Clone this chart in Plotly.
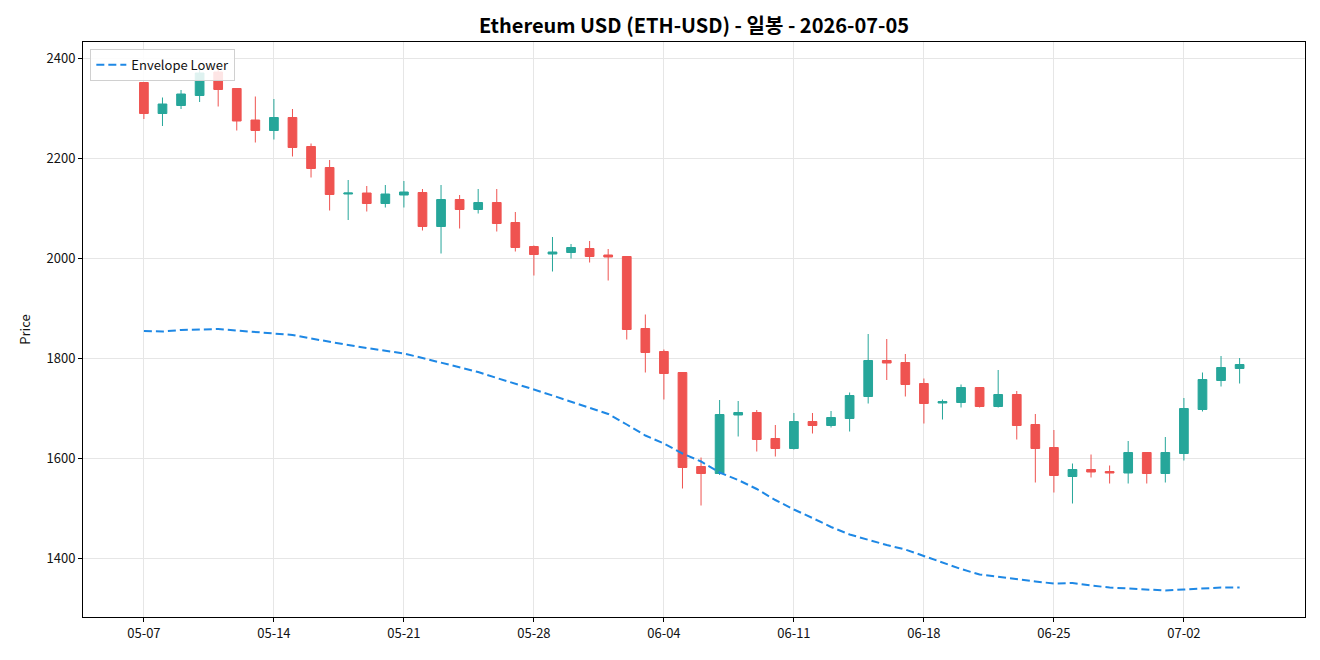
import pandas as pd
import plotly.graph_objects as go

dates = pd.date_range("2026-05-07", "2026-07-05", freq="D")

opens = [2351, 2289, 2305, 2325, 2372, 2339, 2276, 2255, 2281, 2223,
         2181, 2128, 2130, 2109, 2126, 2131, 2063, 2117, 2097, 2111,
         2071, 2023, 2008, 2011, 2019, 2006, 2003, 1859, 1813, 1771,
         1583, 1569, 1686, 1691, 1639, 1619, 1673, 1665, 1679, 1723,
         1795, 1791, 1749, 1710, 1711, 1741, 1703, 1727, 1667, 1621,
         1563, 1577, 1573, 1570, 1611, 1569, 1609, 1697, 1755, 1779]
highs = [2352, 2321, 2336, 2380, 2378, 2340, 2323, 2318, 2298, 2229,
         2196, 2156, 2144, 2146, 2154, 2138, 2146, 2126, 2138, 2138,
         2092, 2025, 2042, 2028, 2034, 2018, 2004, 1887, 1817, 1772,
         1601, 1716, 1714, 1696, 1666, 1690, 1690, 1694, 1731, 1848,
         1838, 1808, 1759, 1717, 1747, 1742, 1776, 1734, 1688, 1656,
         1589, 1607, 1585, 1634, 1612, 1642, 1720, 1771, 1804, 1800]
lows = [2278, 2264, 2298, 2312, 2303, 2255, 2231, 2237, 2203, 2161,
        2095, 2076, 2093, 2101, 2101, 2055, 2009, 2059, 2089, 2053,
        2013, 1965, 1973, 1999, 1991, 1955, 1837, 1771, 1717, 1539,
        1505, 1566, 1643, 1613, 1603, 1617, 1649, 1661, 1653, 1709,
        1756, 1723, 1669, 1677, 1701, 1701, 1701, 1637, 1551, 1531,
        1509, 1561, 1549, 1549, 1549, 1551, 1595, 1693, 1743, 1749]
closes = [2289, 2308, 2328, 2370, 2337, 2274, 2255, 2281, 2221, 2179,
          2127, 2130, 2109, 2128, 2132, 2063, 2117, 2097, 2111, 2069,
          2021, 2007, 2012, 2021, 2003, 2002, 1857, 1811, 1769, 1581,
          1569, 1687, 1691, 1637, 1619, 1673, 1665, 1681, 1725, 1795,
          1790, 1747, 1709, 1713, 1741, 1703, 1727, 1665, 1619, 1565,
          1577, 1572, 1570, 1611, 1569, 1611, 1699, 1757, 1781, 1787]
env_lower = [1854, 1853, 1856, 1857, 1858, 1855, 1852, 1850, 1846, 1839,
             1832, 1826, 1820, 1815, 1809, 1800, 1791, 1782, 1772, 1760,
             1749, 1737, 1725, 1713, 1701, 1688, 1667, 1645, 1629, 1609,
             1593, 1571, 1556, 1538, 1516, 1497, 1480, 1462, 1447, 1436,
             1426, 1417, 1404, 1390, 1378, 1367, 1362, 1358, 1353, 1349,
             1350, 1345, 1341, 1339, 1337, 1335, 1337, 1339, 1341, 1341]

y_ticks = [1400, 1600, 1800, 2000, 2200, 2400]

FONT = "Noto Sans CJK KR, Noto Sans, sans-serif"

fig = go.Figure()
fig.add_trace(go.Candlestick(
    x=dates, open=opens, high=highs, low=lows, close=closes,
    increasing=dict(line=dict(color="#26a69a", width=1), fillcolor="#26a69a"),
    decreasing=dict(line=dict(color="#ef5350", width=1), fillcolor="#ef5350"),
    whiskerwidth=0, showlegend=False, name="ETH-USD",
))
fig.add_trace(go.Scatter(
    x=dates, y=env_lower, mode="lines", name="Envelope Lower",
    line=dict(color="#1e88e5", width=2, dash="8px,4px"),
))

fig.update_layout(
    width=1320, height=660,
    margin=dict(l=83, r=15, t=42, b=43),
    paper_bgcolor="white", plot_bgcolor="white",
    font=dict(family=FONT, size=13, color="#111"),
    boxgap=0.33,
    title=dict(text="<b>Ethereum USD (ETH-USD) - 일봉 - 2026-07-05</b>",
               x=(83 + 1305) / 2 / 1320, xanchor="center",
               y=1 - 26 / 660, yanchor="middle", yref="container",
               font=dict(family=FONT, size=20, color="#000")),
    legend=dict(x=0.006, y=0.988, xanchor="left", yanchor="top",
                bgcolor="rgba(255,255,255,0.85)", bordercolor="#d0d0d0",
                borderwidth=1, font=dict(size=13)),
    showlegend=True,
)
fig.update_xaxes(
    rangeslider_visible=False, type="date",
    range=[dates[0] - pd.Timedelta(hours=78.7), dates[-1] + pd.Timedelta(hours=84.5)],
    tick0=dates[0], dtick=7 * 86400000, tickformat="%m-%d",
    showgrid=True, gridcolor="#e6e6e6", gridwidth=1,
    showline=True, linecolor="black", linewidth=1, mirror=True,
    ticks="outside", ticklen=4, tickcolor="black", zeroline=False,
)
fig.update_yaxes(
    range=[1282, 2432], tickvals=y_ticks,
    showgrid=True, gridcolor="#e6e6e6", gridwidth=1,
    showline=True, linecolor="black", linewidth=1, mirror=True,
    ticks="outside", ticklen=4, tickcolor="black", zeroline=False,
    title=dict(text="Price", standoff=12, font=dict(size=13)),
)

fig.write_html("out.html")
